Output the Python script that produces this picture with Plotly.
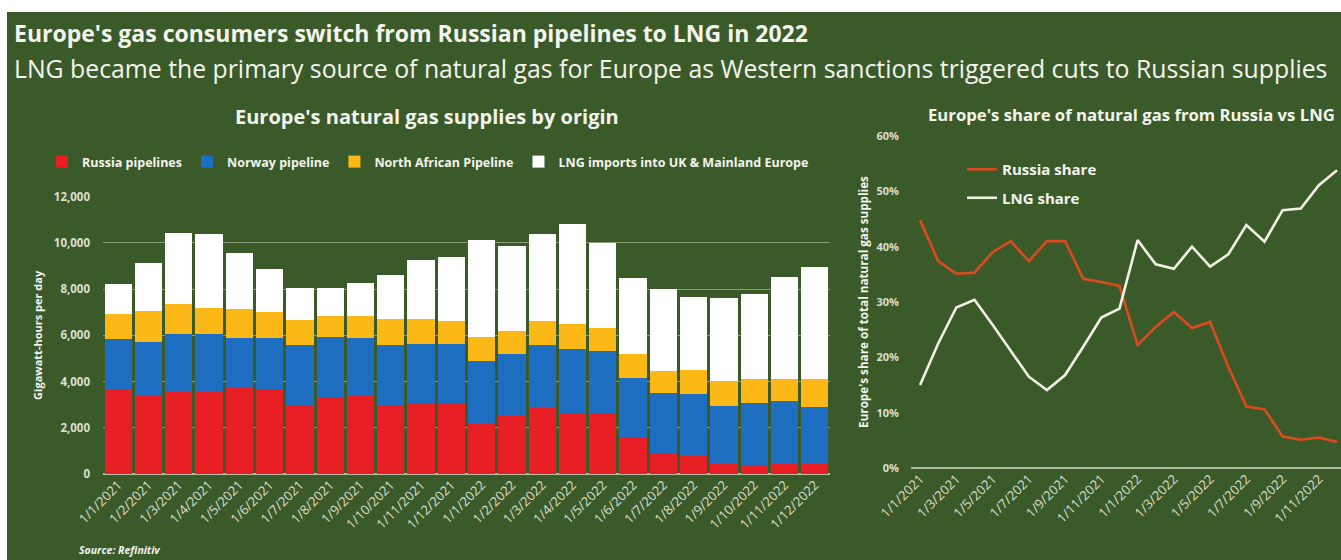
import plotly.graph_objects as go

W, H = 1341, 560

# Month labels shared by both panels
months = [
    "1/1/2021", "1/2/2021", "1/3/2021", "1/4/2021", "1/5/2021", "1/6/2021",
    "1/7/2021", "1/8/2021", "1/9/2021", "1/10/2021", "1/11/2021", "1/12/2021",
    "1/1/2022", "1/2/2022", "1/3/2022", "1/4/2022", "1/5/2022", "1/6/2022",
    "1/7/2022", "1/8/2022", "1/9/2022", "1/10/2022", "1/11/2022", "1/12/2022",
]

# Supplies by origin, gigawatt-hours per day
russia_pipelines = [3640, 3380, 3610, 3610, 3740, 3640, 2960, 3305, 3380, 2945, 3060, 3060,
                    2195, 2510, 2915, 2655, 2600, 1545, 865, 795, 420, 390, 435, 420]
norway_pipeline = [2190, 2350, 2440, 2435, 2135, 2235, 2625, 2610, 2495, 2640, 2555, 2555,
                   2700, 2685, 2670, 2740, 2725, 2625, 2655, 2670, 2525, 2700, 2725, 2495]
north_african_pipeline = [1095, 1325, 1315, 1140, 1255, 1155, 1085, 940, 980, 1125, 1080, 1025,
                          1025, 1010, 1040, 1085, 980, 1010, 955, 1040, 1095, 1010, 940, 1185]
lng_imports = [1285, 2095, 3045, 3220, 2455, 1835, 1370, 1185, 1400, 1905, 2570, 2770,
               4210, 3665, 3750, 4330, 3705, 3320, 3535, 3175, 3565, 3695, 4420, 4850]

# Shares of total natural gas supplies, percent
russia_share = [44.8, 37.4, 35.1, 35.3, 39.0, 41.0, 37.4, 41.0, 41.0, 34.2, 33.6, 32.9,
                22.2, 25.5, 28.2, 25.3, 26.4, 18.3, 11.1, 10.6, 5.7, 5.1, 5.5, 4.7]
lng_share = [15.0, 22.5, 29.0, 30.4, 25.9, 21.2, 16.5, 14.1, 16.8, 21.9, 27.2, 28.8,
             41.2, 36.8, 36.0, 40.0, 36.4, 38.6, 43.9, 40.9, 46.6, 46.9, 51.1, 53.8]

bar_ticks = [0, 2000, 4000, 6000, 8000, 10000, 12000]
share_ticks = [0, 10, 20, 30, 40, 50, 60]

BG = "#3b5a29"
TXT = "#f4f4ee"
TICK = "#dcdfd2"
FONT = "Open Sans"


def px(x):
    return x / W


def py(y):
    return 1 - y / H


fig = go.Figure()

bar_series = [
    ("Russia pipelines", russia_pipelines, "#e81e25"),
    ("Norway pipeline", norway_pipeline, "#1e6ec2"),
    ("North African Pipeline", north_african_pipeline, "#fbb817"),
    ("LNG imports into UK & Mainland Europe", lng_imports, "#ffffff"),
]
for name, vals, col in bar_series:
    fig.add_trace(go.Bar(
        x=months, y=vals, name=name, marker=dict(color=col, line=dict(width=0)),
        xaxis="x", yaxis="y", legend="legend",
    ))

fig.add_trace(go.Scatter(
    x=months, y=[v / 100 for v in russia_share], name="Russia share", mode="lines",
    line=dict(color="#dd4a1f", width=2.6), xaxis="x2", yaxis="y2",
    legend="legend2", legendgroup="r",
))
fig.add_trace(go.Scatter(
    x=months, y=[v / 100 for v in lng_share], name="LNG share", mode="lines",
    line=dict(color="#f2f1e6", width=2.6), xaxis="x2", yaxis="y2",
    legend="legend2", legendgroup="l",
))

tickfont = dict(family=FONT, size=11.5, color=TICK, weight="bold")
xtickfont = dict(family=FONT, size=13, color=TICK)

fig.update_layout(
    width=W, height=H,
    margin=dict(l=0, r=0, t=0, b=0),
    paper_bgcolor="#ffffff",
    plot_bgcolor="rgba(0,0,0,0)",
    barmode="stack", bargap=0.1,
    font=dict(family=FONT, color=TXT),
    showlegend=True,
    xaxis=dict(
        domain=[px(103), px(830)], type="category", tickangle=-45,
        tickfont=xtickfont, showgrid=False, ticks="", showline=False,
        anchor="y", automargin=False,
    ),
    yaxis=dict(
        domain=[py(474), py(196.7)], range=[0, 12000], tickvals=bar_ticks,
        tickformat=",d", tickfont=tickfont, showgrid=True,
        gridcolor="rgba(205,210,190,0.55)", gridwidth=1, zeroline=True,
        zerolinecolor="rgba(215,215,195,0.8)", zerolinewidth=1.5,
        ticks="", ticklabelstandoff=12, anchor="x", automargin=False,
        title=dict(text="Gigawatt-hours per day", standoff=8,
                   font=dict(family=FONT, size=11, color=TXT, weight="bold")),
    ),
    xaxis2=dict(
        domain=[px(911), 1.0], type="category", range=[-0.5, 23.22],
        tickvals=months[::2], ticktext=months[::2], tickangle=-45,
        tickfont=xtickfont, showgrid=False, ticks="", showline=False,
        anchor="y2", automargin=False,
    ),
    yaxis2=dict(
        domain=[py(468), py(136)], range=[0, 0.6], tickvals=[t / 100 for t in share_ticks],
        tickformat=".0%", tickfont=dict(family=FONT, size=11, color=TICK, weight="bold"),
        showgrid=False, zeroline=True, zerolinecolor="rgba(215,215,195,0.75)",
        zerolinewidth=1.5, ticks="", ticklabelstandoff=11, anchor="x2", automargin=False,
        title=dict(text="Europe's share of total natural gas supplies", standoff=5,
                   font=dict(family=FONT, size=11.7, color=TXT, weight="bold")),
    ),
    legend=dict(
        orientation="h", x=px(42), y=py(162), xanchor="left", yanchor="middle",
        bgcolor="rgba(0,0,0,0)", font=dict(family=FONT, size=12.5, color=TXT, weight="bold"),
        itemwidth=30, traceorder="normal",
    ),
    legend2=dict(
        orientation="v", x=px(962), y=py(153), xanchor="left", yanchor="top",
        bgcolor="rgba(0,0,0,0)", font=dict(family=FONT, size=15, color=TXT, weight="bold"),
        itemwidth=30, tracegroupgap=6,
    ),
    shapes=[
        dict(type="rect", xref="paper", yref="paper", x0=px(7), x1=1.0, y0=0, y1=py(12),
             fillcolor=BG, line=dict(width=0), layer="below"),
    ],
    annotations=[
        dict(text="<b>Europe's gas consumers switch from Russian pipelines to LNG in 2022</b>",
             x=px(12), y=py(33), xref="paper", yref="paper", xanchor="left", yanchor="middle",
             showarrow=False, font=dict(family=FONT, size=23, color=TXT)),
        dict(text="LNG became the primary source of natural gas for Europe as Western sanctions triggered cuts to Russian supplies",
             x=px(12), y=py(68), xref="paper", yref="paper", xanchor="left", yanchor="middle",
             showarrow=False, font=dict(family=FONT, size=24.8, color=TXT)),
        dict(text="<b>Europe's natural gas supplies by origin</b>",
             x=px(427), y=py(116), xref="paper", yref="paper", xanchor="center", yanchor="middle",
             showarrow=False, font=dict(family=FONT, size=20, color=TXT)),
        dict(text="<b>Europe's share of natural gas from Russia vs LNG</b>",
             x=px(926), y=py(115), xref="paper", yref="paper", xanchor="left", yanchor="middle",
             showarrow=False, font=dict(family=FONT, size=16.7, color=TXT)),
        dict(text="<b><i>Source: Refinitiv</i></b>",
             x=px(77), y=py(550), xref="paper", yref="paper", xanchor="left", yanchor="middle",
             showarrow=False, font=dict(family=FONT, size=10.5, color=TXT)),
    ],
)

fig.write_html("out.html")
